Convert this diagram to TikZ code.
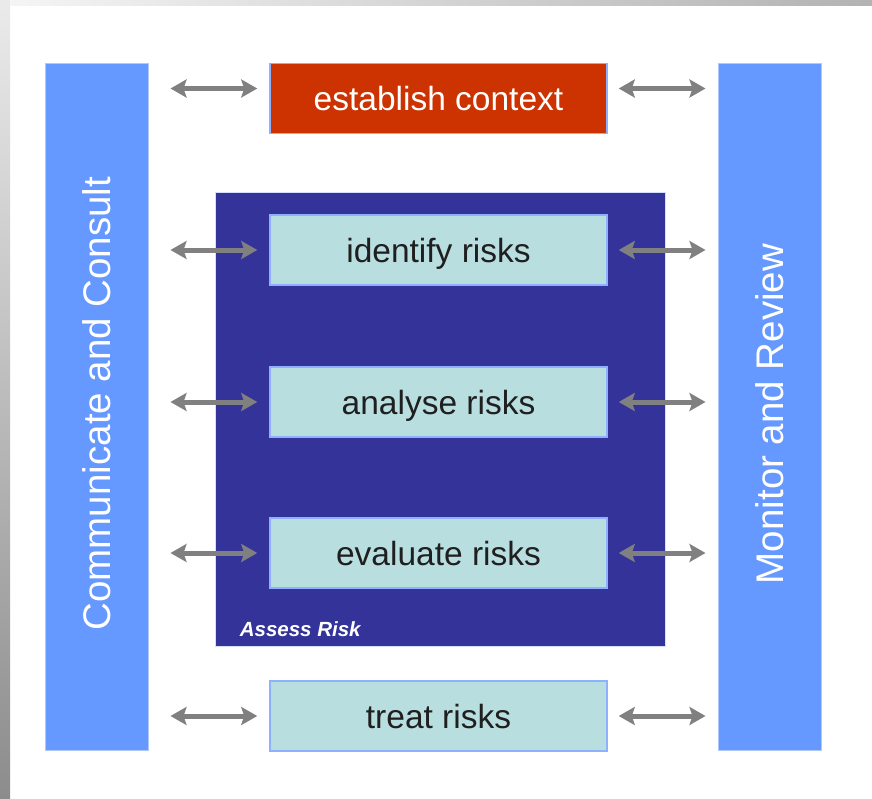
\documentclass[tikz,border=0pt]{standalone}
\usepackage{fontspec}
\setmainfont{Liberation Sans}
\usetikzlibrary{arrows.meta}
\definecolor{barblue}{HTML}{6699FF}
\definecolor{ctxred}{HTML}{CC3300}
\definecolor{assessblue}{HTML}{333399}
\definecolor{steppale}{HTML}{B8DEE0}
\definecolor{edgeblue}{HTML}{8FB0FF}
\definecolor{arrowgray}{HTML}{808080}

\tikzset{
  bar/.style={fill=barblue, draw=edgeblue!70, line width=1pt, inner sep=0pt,
    minimum width=103pt, minimum height=687pt},
  bartext/.style={text=white, inner sep=0pt, font=\fontsize{38.5}{40}\selectfont},
  stepbox/.style={fill=steppale, draw=edgeblue, line width=1.5pt, inner sep=0pt,
    minimum width=337pt, minimum height=70pt, text depth=0pt, text=black!88,
    font=\fontsize{33.5}{36}\selectfont},
  twoway/.style={{Stealth[length=16pt,width=18pt,inset=3pt]}-{Stealth[length=16pt,width=18pt,inset=3pt]},
    arrowgray, line width=5pt},
}

\begin{document}
\begin{tikzpicture}[x=1pt,y=-1pt]
\useasboundingbox (0,0) rectangle (872,798);

% screen edges
\shade[top color=black!8, bottom color=black!45] (0,0) rectangle (10,798);
\shade[left color=black!4, right color=black!30] (10,0) rectangle (872,5);

% side bars
\node[bar] (ccbar) at (96.5,406.5) {};
\node[bartext] (cctext) at ([yshift=3pt]ccbar.center) {\rotatebox{90}{Communicate and Consult}};
\node[bar] (mrbar) at (769.5,406.5) {};
\node[bartext] (mrtext) at ([yshift=-7.5pt]mrbar.center) {\rotatebox{90}{Monitor and Review}};

% assessment block
\node[fill=assessblue, draw=edgeblue!40, line width=0.8pt, inner sep=0pt,
  minimum width=450pt, minimum height=454pt] (assess) at (440,419) {};
\node[anchor=base west, text=white, inner sep=0pt,
  font=\fontsize{20.5}{22}\selectfont\bfseries\itshape]
  (assesslbl) at ([xshift=25pt,yshift=10pt]assess.south west) {Assess Risk};

% process steps
\node[stepbox, fill=ctxred, text=white] (context) at (438.5,98.5) {establish context};
\node[stepbox] (identify) at (438.5,250) {identify risks};
\node[stepbox] (analyse) at (438.5,402) {analyse risks};
\node[stepbox] (evaluate) at (438.5,553) {evaluate risks};
\node[stepbox] (treat) at (438.5,716) {treat risks};

% links to the side bars
\draw[twoway, shorten <=22pt, shorten >=12pt]
  ([yshift=10pt]ccbar.east |- context.west) -- ([yshift=10pt]context.west);
\draw[twoway, shorten <=11pt, shorten >=12pt]
  ([yshift=10pt]context.east) -- ([yshift=10pt]mrbar.west |- context.east);
\foreach \n in {identify,analyse,evaluate,treat} {
  \draw[twoway, shorten <=22pt, shorten >=12pt] (ccbar.east |- \n.west) -- (\n.west);
  \draw[twoway, shorten <=11pt, shorten >=12pt] (\n.east) -- (mrbar.west |- \n.east);
}
\end{tikzpicture}
\end{document}
